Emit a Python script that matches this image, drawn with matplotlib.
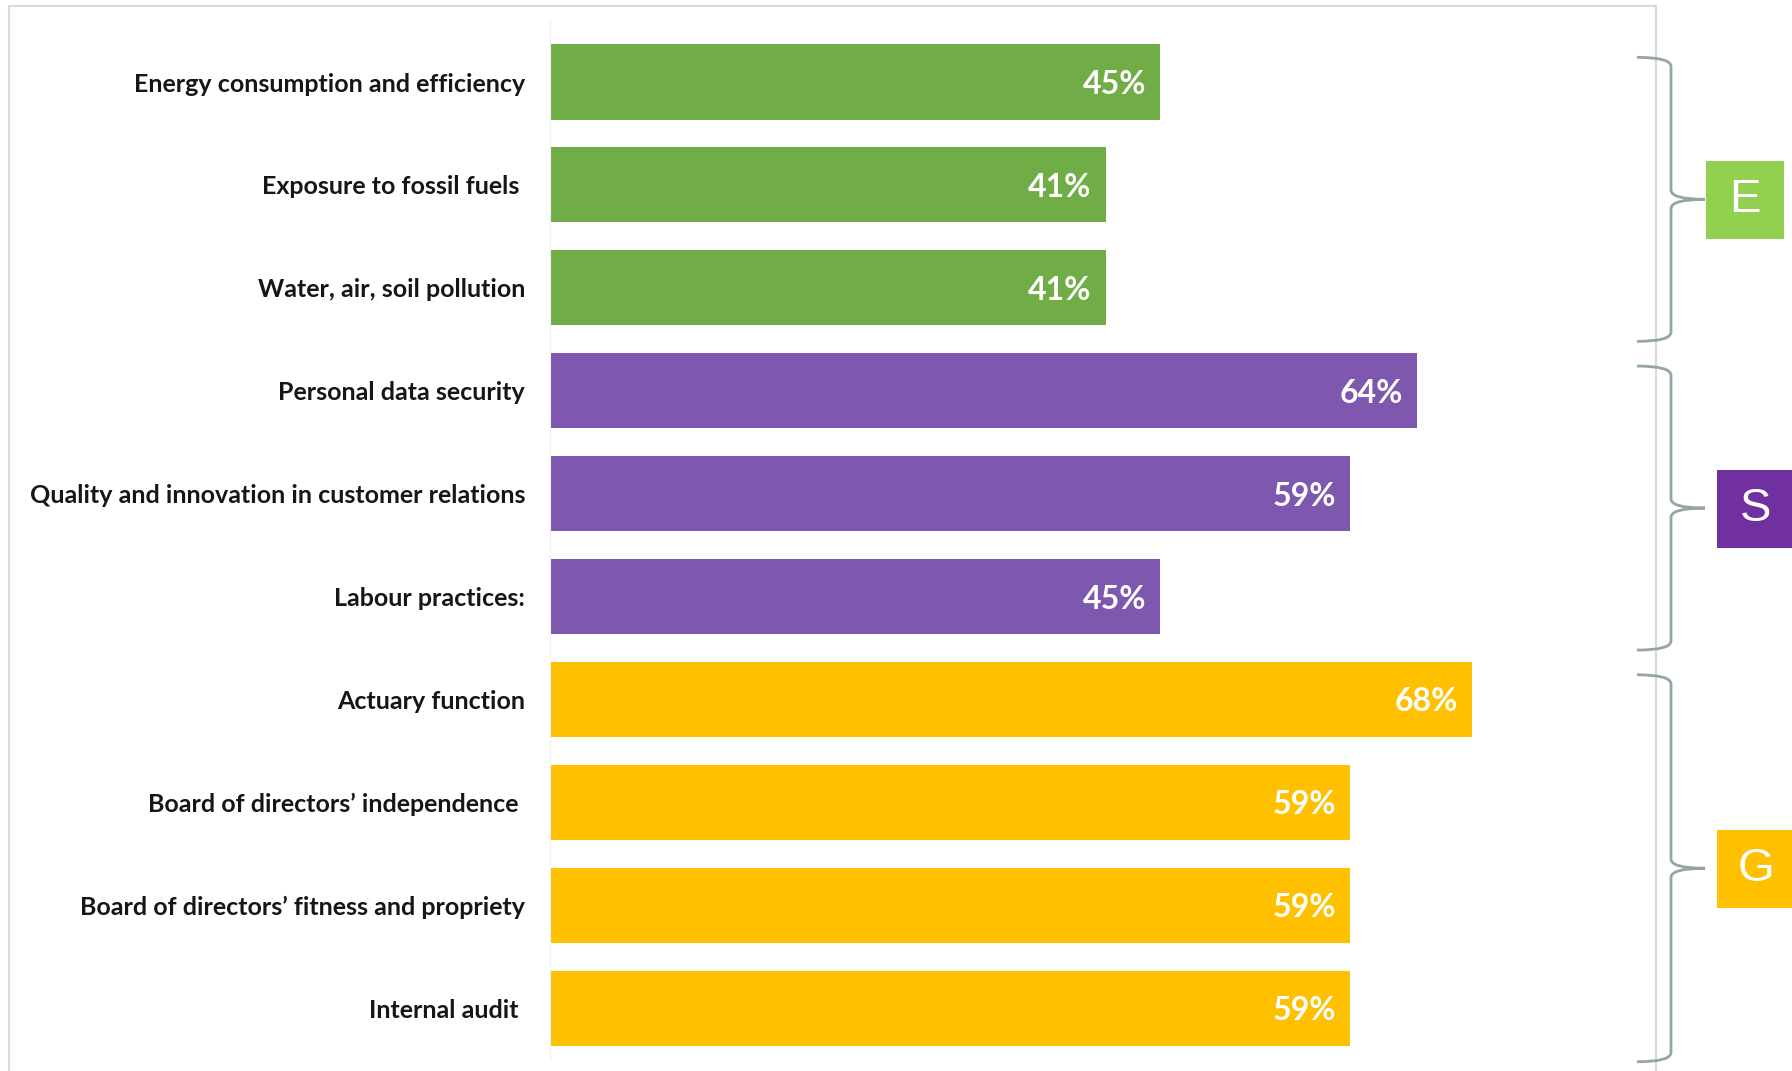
import matplotlib.pyplot as plt
import matplotlib.transforms as mtransforms
from matplotlib.patches import PathPatch, Rectangle
from matplotlib.path import Path

# ---------------------------- Data ----------------------------#
categories = [
    "Energy consumption and efficiency",
    "Exposure to fossil fuels ",
    "Water, air, soil pollution",
    "Personal data security",
    "Quality and innovation in customer relations",
    "Labour practices:",
    "Actuary function",
    "Board of directors\u2019 independence ",
    "Board of directors\u2019 fitness and propriety",
    "Internal audit ",
]
values = [45, 41, 41, 64, 59, 45, 68, 59, 59, 59]
groups = ["E", "E", "E", "S", "S", "S", "G", "G", "G", "G"]

group_names = ["E", "S", "G"]
bar_colors = {"E": "#70AD47", "S": "#7E57AE", "G": "#FFC000"}
box_colors = {"E": "#92D050", "S": "#7030A0", "G": "#FFC000"}

plt.rcParams["font.family"] = ["Lato", "DejaVu Sans"]

W, H = 1792, 1071
fig = plt.figure(figsize=(W / 100, H / 100), dpi=100)

# outer light frame
fig.patches.append(Rectangle((9 / W, -0.05), (1656 - 9) / W, 1.05 - 6 / H,
                             transform=fig.transFigure, fill=False,
                             edgecolor="#D9D9D9", lw=1.5))

ax = fig.add_axes([550 / W, 0, (1656 - 550) / W, 1])
ax.set_facecolor("none")

pos = list(range(len(categories)))
colors = [bar_colors[g] for g in groups]
bars = ax.barh(pos, values, height=0.73, color=colors)

for rect, v in zip(bars, values):
    ax.annotate(f"{v}%", (rect.get_width(), rect.get_y() + rect.get_height() / 2),
                xytext=(-14, 0), textcoords="offset pixels", ha="right",
                va="center_baseline", color="white", fontsize=23, fontweight="bold")

ax.set_xlim(0, 81.6)
ax.set_ylim(9.61, -0.797)
ax.set_yticks(pos)
ax.set_yticklabels(categories, fontsize=18, fontweight="bold", color="#161616")
ax.tick_params(axis="y", length=0, pad=18)
ax.set_xticks([])
for side in ["top", "right", "bottom"]:
    ax.spines[side].set_visible(False)
ax.spines["left"].set_color("#F0F0F0")
ax.spines["left"].set_bounds(-0.6, 9.5)

# ---------------------------- Braces + group boxes ----------------------------#
trans = mtransforms.blended_transform_factory(fig.transFigure, ax.transData)
x_hook, x_spine, x_tip = 1637 / W, 1671 / W, 1705 / W
box_left = {"E": 1706 / W, "S": 1717 / W, "G": 1717 / W}
r = 0.09

for g in group_names:
    idx = [i for i, gg in enumerate(groups) if gg == g]
    y0 = idx[0] - 0.24
    y1 = idx[-1] + 0.52
    ym = (y0 + y1) / 2
    verts = [(x_hook, y0), (x_spine, y0), (x_spine, y0 + r),
             (x_spine, ym - r), (x_spine, ym), (x_tip, ym),
             (x_spine, ym), (x_spine, ym + r),
             (x_spine, y1 - r), (x_spine, y1), (x_hook, y1)]
    codes = [Path.MOVETO, Path.CURVE3, Path.CURVE3,
             Path.LINETO, Path.CURVE3, Path.CURVE3,
             Path.CURVE3, Path.CURVE3,
             Path.LINETO, Path.CURVE3, Path.CURVE3]
    fig.patches.append(PathPatch(Path(verts, codes), transform=trans, fill=False,
                                 edgecolor="#95A69D", lw=2))

    bc = (idx[0] + idx[-1]) / 2 + 0.15
    bh = 0.76
    fig.patches.append(Rectangle((box_left[g], bc - bh / 2), 78 / W, bh,
                                 transform=trans, facecolor=box_colors[g],
                                 edgecolor="none"))
    fig.text(box_left[g] + 39 / W, bc, g, transform=trans, ha="center", va="center",
             color="white", fontsize=34, family="Liberation Sans")

fig.savefig("out.png", dpi=100)
